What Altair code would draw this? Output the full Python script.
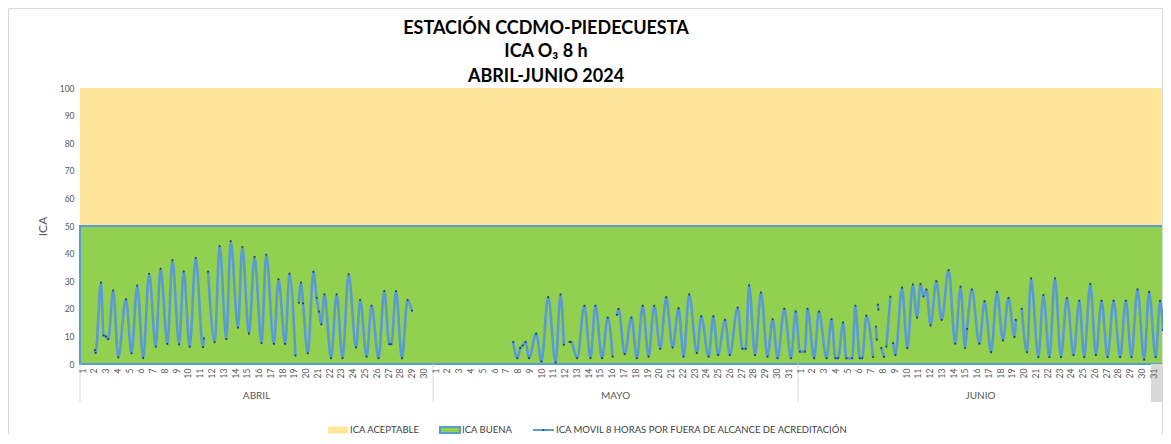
import json
import altair as alt
import pandas as pd

# ---------------- data ----------------
MONTHS = ["ABRIL", "MAYO", "JUNIO"]
DAYS_IN_MONTH = [30, 31, 31]
Y_TICKS = [0, 10, 20, 30, 40, 50, 60, 70, 80, 90, 100]
BAND_NAMES = ["ICA ACEPTABLE", "ICA BUENA"]
BAND_LOW = [50, 0]
BAND_HIGH = [100, 50]
LINE_NAME = "ICA MOVIL 8 HORAS POR FUERA DE ALCANCE DE ACREDITACIÓN"
TITLE_LINES = ["ESTACIÓN CCDMO-PIEDECUESTA", "ICA O₃ 8 h", "ABRIL-JUNIO 2024"]

# day position (days since 1 April, fractional) and ICA value, per continuous segment
SEG_DAYS = [
    [1.27, 1.33, 1.78, 2.0, 2.2, 2.4, 2.82, 3.25, 3.9, 4.38, 4.86, 5.37, 5.87, 6.44,
     6.84, 7.43, 7.85, 8.42, 8.81, 9.32, 9.83, 10.45, 10.52],
    [10.88, 11.44, 11.86, 12.43, 12.8, 13.42, 13.79, 14.35, 14.83, 15.42, 15.82,
     16.47, 16.86, 17.43, 17.8, 18.3],
    [18.59, 18.78, 18.95, 19.35, 19.83, 20.1, 20.3, 20.5, 20.76, 21.33, 21.8, 22.3,
     22.82, 23.45, 23.8, 24.35, 24.77, 25.36, 25.85, 26.27, 26.45, 26.84, 27.35,
     27.82, 28.19],
    [36.8, 37.15, 37.4, 37.6, 37.85, 38.14, 38.75, 39.2, 39.77, 40.4, 40.82, 41.1],
    [41.58, 41.7, 42.23, 42.85, 43.36, 43.79, 44.35, 44.83, 45.25],
    [45.62, 45.75, 46.27, 46.84, 47.31, 47.8, 48.3, 48.78, 49.29, 49.8, 50.34, 50.85,
     51.27, 51.75, 52.4, 52.77, 53.4, 53.8, 54.2, 54.8, 55.2, 55.87, 56.27, 56.55,
     56.84, 57.34, 57.85, 58.4, 58.84, 59.26, 59.83, 60.4, 60.8, 61.15, 61.58, 61.8,
     62.37, 62.77, 63.42, 63.84, 64.18, 64.4, 64.83, 65.1, 65.6, 65.87, 66.24, 66.45,
     66.8, 67.37],
    [67.62, 67.68],
    [67.78, 67.82],
    [68.07, 68.3],
    [68.5, 68.84],
    [69.07, 69.27, 69.83, 70.28, 70.75, 71.1, 71.4, 71.65, 71.9, 72.26, 72.74, 73.2,
     73.79, 74.35, 74.8, 75.19, 75.35, 75.76, 76.4, 76.84, 77.4, 77.9, 78.4, 78.87,
     79.38, 79.5],
    [80.0, 80.45, 80.79, 81.41, 81.84, 82.35, 82.82, 83.33, 83.84, 84.4, 84.89, 85.31,
     85.82, 86.3, 86.78, 87.29, 87.8, 88.36, 88.84, 89.32, 89.83, 90.4, 90.82, 91.38,
     91.75, 92.0],
]
SEG_ICA = [
    [5.0, 4.0, 29.5, 10.4, 10.0, 9.0, 26.6, 2.4, 23.4, 3.9, 28.4, 2.2, 32.7, 6.3,
     34.5, 7.3, 37.6, 7.1, 33.5, 6.3, 38.4, 6.1, 9.3],
    [33.5, 7.9, 42.7, 9.1, 44.5, 13.2, 42.4, 11.0, 38.8, 7.6, 39.6, 7.3, 30.7, 7.3,
     32.7, 3.0],
    [22.2, 29.5, 22.0, 3.9, 33.4, 24.0, 19.0, 14.4, 25.2, 2.1, 25.2, 2.1, 32.5, 6.0,
     23.2, 2.7, 21.1, 2.1, 26.4, 7.2, 7.2, 26.4, 2.1, 23.2, 19.3],
    [8.0, 2.1, 5.8, 6.7, 8.0, 2.1, 11.0, 0.9, 24.2, 0.6, 25.2, 7.0],
    [8.0, 8.0, 2.1, 21.1, 2.1, 21.1, 2.1, 16.8, 2.7],
    [17.8, 19.9, 3.6, 16.8, 2.1, 21.1, 2.7, 21.1, 5.5, 24.2, 6.0, 20.2, 2.7, 25.2, 4.0,
     17.3, 2.7, 17.3, 3.3, 16.0, 3.3, 20.4, 5.5, 5.5, 28.5, 3.3, 25.9, 2.7, 16.2, 2.1,
     20.0, 2.1, 19.0, 4.5, 4.5, 20.0, 2.1, 19.0, 2.1, 16.2, 2.1, 2.1, 15.0, 2.1, 2.1,
     21.1, 2.1, 2.1, 17.5, 2.5],
    [13.5, 8.8],
    [21.5, 19.7],
    [5.8, 2.6],
    [6.3, 24.4],
    [7.6, 3.3, 27.7, 5.8, 28.8, 16.8, 29.0, 24.5, 27.0, 14.0, 30.0, 16.0, 34.0, 7.4,
     28.0, 5.8, 12.7, 27.0, 7.4, 22.7, 4.3, 26.1, 8.6, 23.9, 9.8, 16.0],
    [20.0, 4.3, 31.0, 2.5, 25.0, 2.5, 31.0, 2.5, 23.9, 3.3, 22.9, 2.5, 29.0, 3.3,
     22.9, 2.5, 22.9, 2.5, 22.9, 2.5, 27.0, 1.6, 26.1, 2.5, 22.9, 12.3],
]

# ---------------- tables ----------------
TOTAL_DAYS = sum(DAYS_IN_MONTH)
month_start = [sum(DAYS_IN_MONTH[:i]) for i in range(len(DAYS_IN_MONTH))]
months_df = pd.DataFrame({
    "month": MONTHS,
    "start": month_start,
    "mid": [s + n / 2 for s, n in zip(month_start, DAYS_IN_MONTH)],
})
DAY_LABELS = [str(d) for n in DAYS_IN_MONTH for d in range(1, n + 1)]

rows = []
for s, (ds, vs) in enumerate(zip(SEG_DAYS, SEG_ICA)):
    for d, v in zip(ds, vs):
        rows.append({"seg": s, "day": d, "ica": v})
trace = pd.DataFrame(rows)

bands = pd.DataFrame({"band": BAND_NAMES, "low": BAND_LOW, "high": BAND_HIGH,
                      "x0": 0, "x1": TOTAL_DAYS})

FONT = "Lato"
GREY = "#595959"
xs = alt.Scale(domain=[0, TOTAL_DAYS], nice=False, zero=False)
ys = alt.Scale(domain=[0, 100], nice=False)

x_axis = alt.Axis(
    values=[i + 0.17 for i in range(TOTAL_DAYS)],
    labelExpr=json.dumps(DAY_LABELS) + "[floor(datum.value)]",
    labelAngle=-90, labelAlign="right", labelBaseline="middle",
    labelOverlap=False, labelFontSize=8.5, labelColor=GREY, labelFont=FONT,
    labelPadding=4, ticks=False, domain=False, grid=False, title=None, zindex=1,
)
y_axis = alt.Axis(
    values=Y_TICKS, labelFontSize=8.5, labelColor=GREY, labelFont=FONT,
    labelPadding=6, ticks=False, domain=False, grid=False,
    title="ICA", titleFont=FONT, titleFontSize=12, titleFontWeight="normal",
    titleColor=GREY, titlePadding=10,
)


def X(field):
    return alt.X(field, scale=xs, axis=x_axis)


def Y(field):
    return alt.Y(field, scale=ys, axis=y_axis)


one = alt.Data(values=[{"a": 1}])

yellow = alt.Chart(bands[bands.band == BAND_NAMES[0]]).mark_rect(
    color="#FFE699").encode(x=X("x0:Q"), x2="x1:Q", y=Y("low:Q"), y2="high:Q")
green = alt.Chart(bands[bands.band == BAND_NAMES[1]]).mark_rect(
    fill="#92D050", stroke="#5B9BD5", strokeWidth=2).encode(
    x=X("x0:Q"), x2="x1:Q", y=Y("low:Q"), y2="high:Q")

line = alt.Chart(trace).mark_line(
    color="#5B9BD5", strokeWidth=2.6, interpolate="monotone").encode(
    x=X("day:Q"), y=Y("ica:Q"), detail="seg:N")
dots = alt.Chart(trace).mark_point(
    filled=True, shape="square", size=3, color="#1F3864", opacity=1).encode(
    x=X("day:Q"), y=Y("ica:Q"))

seps = alt.Chart(months_df).mark_rule(color="#D9D9D9", strokeWidth=1).encode(
    x=X("start:Q"), y=alt.value(276), y2=alt.value(314))
month_lbl = alt.Chart(months_df).mark_text(
    font=FONT, fontSize=10, color=GREY, baseline="middle").encode(
    x=X("mid:Q"), y=alt.value(308), text="month:N")
grey_box = alt.Chart(one).mark_rect(color="#D9D9D9").encode(
    x=alt.value(1071), x2=alt.value(1083), y=alt.value(276), y2=alt.value(314))

border = alt.Chart(one).mark_rect(fillOpacity=0, stroke="#D9D9D9", strokeWidth=1).encode(
    x=alt.value(-71.5), x2=alt.value(1082.5), y=alt.value(-79.5), y2=alt.value(370))

title_layers = []
for txt, yy in zip(TITLE_LINES, [-59, -36, -11]):
    title_layers.append(alt.Chart(one).mark_text(
        font=FONT, fontSize=18, fontWeight="bold", color="#000000",
        align="center", baseline="middle").encode(
        x=alt.value(466), y=alt.value(yy), text=alt.value(txt)))

LEG_Y = 342
leg = [
    alt.Chart(one).mark_rect(color="#FFE699").encode(
        x=alt.value(248), x2=alt.value(268), y=alt.value(LEG_Y - 3.5), y2=alt.value(LEG_Y + 3.5)),
    alt.Chart(one).mark_rect(fill="#92D050", stroke="#5B9BD5", strokeWidth=2).encode(
        x=alt.value(360), x2=alt.value(380), y=alt.value(LEG_Y - 3), y2=alt.value(LEG_Y + 3)),
    alt.Chart(one).mark_rule(color="#5B9BD5", strokeWidth=2).encode(
        x=alt.value(453), x2=alt.value(474), y=alt.value(LEG_Y)),
    alt.Chart(one).mark_point(filled=True, shape="square", size=3, color="#1F3864", opacity=1).encode(
        x=alt.value(463.5), y=alt.value(LEG_Y)),
]
for txt, xx in zip(BAND_NAMES + [LINE_NAME], [270, 382, 476]):
    leg.append(alt.Chart(one).mark_text(
        font=FONT, fontSize=9.5, color="#404040", align="left", baseline="middle").encode(
        x=alt.value(xx), y=alt.value(LEG_Y), text=alt.value(txt)))

chart = alt.layer(
    yellow, green, border, grey_box, seps, line, dots, month_lbl, *title_layers, *leg
).properties(
    width=1083, height=276,
    padding={"left": 72, "top": 80, "right": 0, "bottom": 70},
    autosize=alt.AutoSizeParams(type="none"),
    background="white",
).configure_view(stroke=None)

chart.save("out.html", embed_options={"renderer": "svg", "actions": False})
